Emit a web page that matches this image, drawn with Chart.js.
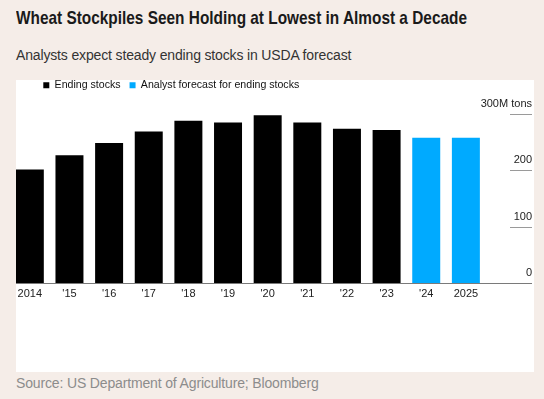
<!DOCTYPE html>
<html><head><meta charset="utf-8">
<script src="https://cdn.jsdelivr.net/npm/chart.js@4"></script>
<style>
html,body{margin:0;padding:0;}
body{width:544px;height:399px;background:#f5ede8;position:relative;overflow:hidden;font-family:"Liberation Sans",Arial,sans-serif;}
#title{position:absolute;left:16px;top:8px;font-family:"Liberation Sans",Arial,sans-serif;font-weight:700;font-size:19px;line-height:19px;color:#1a1a1a;white-space:nowrap;transform:scaleX(0.81);transform-origin:0 0;}
#subtitle{position:absolute;left:16px;top:48px;font-size:14px;line-height:14px;color:#333;letter-spacing:-0.15px;white-space:nowrap;}
#panel{position:absolute;left:16px;top:80px;width:518px;height:292px;background:#fff;overflow:hidden;}
#chart{position:absolute;left:-6px;top:-20px;}
#source{position:absolute;left:16px;top:376px;font-size:14px;line-height:14px;color:#8c8c8c;letter-spacing:-0.15px;white-space:nowrap;}
</style></head>
<body>
<div id="title">Wheat Stockpiles Seen Holding at Lowest in Almost a Decade</div>
<div id="subtitle">Analysts expect steady ending stocks in USDA forecast</div>
<div id="panel"><canvas id="chart" width="524" height="312" style="width:524px;height:312px"></canvas></div>
<div id="source">Source: US Department of Agriculture; Bloomberg</div>
<script>
const categories = ['2014', "'15", "'16", "'17", "'18", "'19", "'20", "'21", "'22", "'23", "'24", '2025'];
const endingStocks = [201, 226, 248, 268, 287, 284, 297, 284, 273, 271, null, null];
const analystForecast = [null, null, null, null, null, null, null, null, null, null, 257, 257];
const seriesNames = ['Ending stocks', 'Analyst forecast for ending stocks'];
const yTickValues = [0, 100, 200, 300];
const yTickLabels = ['0', '100', '200', '300M tons'];

const tickLines = {
  id: 'tickLines',
  afterDatasetsDraw(chart) {
    const y = chart.scales.y, ctx = chart.ctx;
    ctx.save();
    ctx.lineWidth = 1;
    y.ticks.forEach(t => {
      const py = Math.round(y.getPixelForValue(t.value)) + 0.5;
      ctx.beginPath();
      if (t.value === 0) {
        ctx.strokeStyle = '#7a7a7a';
        ctx.moveTo(0, py);
      } else {
        ctx.strokeStyle = '#9a9a9a';
        ctx.moveTo(y.right - 22, py);
      }
      ctx.lineTo(y.right, py);
      ctx.stroke();
    });
    ctx.restore();
  }
};
const legendShift = {
  id: 'legendShift',
  afterLayout(chart) {
    const l = chart.legend;
    l.left += 24.3; l.right += 24.3;
    l.top -= 12.9; l.bottom -= 12.9;
  }
};

const Y_AXIS_WIDTH = 46.3;

new Chart(document.getElementById('chart'), {
  type: 'bar',
  data: {
    labels: categories,
    datasets: [
      { label: seriesNames[0], data: endingStocks, backgroundColor: '#000000' },
      { label: seriesNames[1], data: analystForecast, backgroundColor: '#00aaff' }
    ]
  },
  options: {
    responsive: false,
    animation: false,
    devicePixelRatio: 1,
    layout: { padding: { left: 0, right: 2, top: 23.9, bottom: 64 } },
    datasets: { bar: { grouped: false, borderWidth: 0, barPercentage: 0.706, categoryPercentage: 1 } },
    plugins: {
      tooltip: { enabled: false },
      legend: {
        position: 'top', align: 'start',
        labels: { boxWidth: 6, boxHeight: 6, padding: 9, color: '#111', font: { family: '"Liberation Sans", Arial, sans-serif', size: 10.6 } }
      }
    },
    scales: {
      x: {
        grid: { display: false, drawTicks: false },
        border: { display: false },
        ticks: { color: '#222', padding: 4, maxRotation: 0, autoSkip: false, font: { family: '"Liberation Sans", Arial, sans-serif', size: 11 } },
        afterFit(s) { s.height = 25; }
      },
      y: {
        position: 'right',
        min: 0, max: 300,
        grid: { display: false, drawTicks: false },
        border: { display: false },
        afterBuildTicks(s) { s.ticks = yTickValues.map(v => ({ value: v })); },
        ticks: {
          mirror: true, crossAlign: 'near', padding: Y_AXIS_WIDTH, labelOffset: -10, color: '#222',
          font: { family: '"Liberation Sans", Arial, sans-serif', size: 11 },
          callback(v) { const i = yTickValues.indexOf(v); return i >= 0 ? yTickLabels[i] : ''; }
        },
        afterFit(s) { s.width = Y_AXIS_WIDTH; }
      }
    }
  },
  plugins: [tickLines, legendShift]
});
</script>
</body></html>
